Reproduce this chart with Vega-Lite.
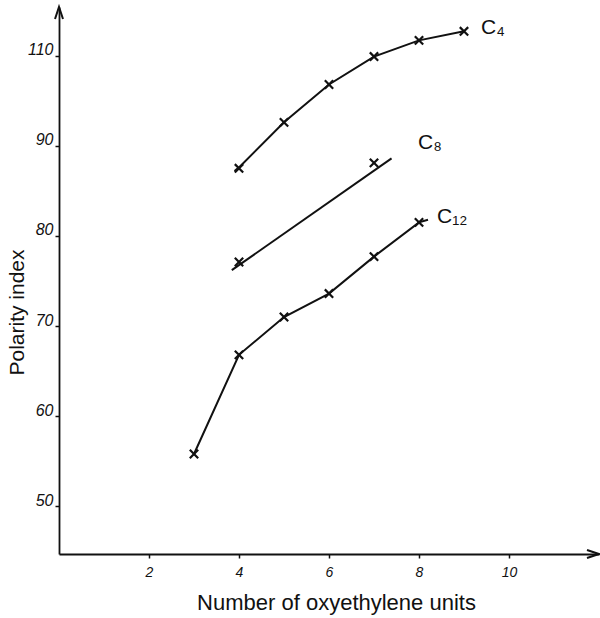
{
  "$schema": "https://vega.github.io/schema/vega-lite/v6.json",
  "width": 540,
  "height": 547,
  "autosize": {"type": "none"},
  "padding": {"left": 59, "top": 7, "right": 1, "bottom": 64},
  "background": "white",
  "config": {
    "view": {"stroke": null},
    "axis": {
      "grid": false,
      "domainColor": "#111",
      "domainWidth": 1.8,
      "tickColor": "#111",
      "tickWidth": 1.5,
      "tickSize": 4,
      "labelColor": "#111",
      "labelFont": "Liberation Sans",
      "labelFontStyle": "italic",
      "titleColor": "#111",
      "titleFont": "Liberation Sans",
      "titleFontWeight": "normal"
    }
  },
  "datasets": {
    "lines": [
      {"series": "C4", "x": 3.9, "y": 87.2},
      {"series": "C4", "x": 4, "y": 87.6},
      {"series": "C4", "x": 5, "y": 92.6},
      {"series": "C4", "x": 6, "y": 96.8},
      {"series": "C4", "x": 7, "y": 99.9},
      {"series": "C4", "x": 8, "y": 101.7},
      {"series": "C4", "x": 9, "y": 102.7},
      {"series": "C8", "x": 3.84, "y": 76.2},
      {"series": "C8", "x": 7.39, "y": 88.6},
      {"series": "C12", "x": 3, "y": 55.8},
      {"series": "C12", "x": 4, "y": 66.8},
      {"series": "C12", "x": 5, "y": 71.0},
      {"series": "C12", "x": 6, "y": 73.6},
      {"series": "C12", "x": 7, "y": 77.7},
      {"series": "C12", "x": 8, "y": 81.5},
      {"series": "C12", "x": 8.2, "y": 81.8}
    ],
    "points": [
      {"series": "C4", "x": 4, "y": 87.5},
      {"series": "C4", "x": 5, "y": 92.6},
      {"series": "C4", "x": 6, "y": 96.8},
      {"series": "C4", "x": 7, "y": 99.9},
      {"series": "C4", "x": 8, "y": 101.7},
      {"series": "C4", "x": 9, "y": 102.7},
      {"series": "C8", "x": 4, "y": 77.1},
      {"series": "C8", "x": 7, "y": 88.1},
      {"series": "C12", "x": 3, "y": 55.8},
      {"series": "C12", "x": 4, "y": 66.8},
      {"series": "C12", "x": 5, "y": 71.0},
      {"series": "C12", "x": 6, "y": 73.6},
      {"series": "C12", "x": 7, "y": 77.7},
      {"series": "C12", "x": 8, "y": 81.5}
    ],
    "labels": [
      {"label": "C₄", "x": 9.38, "y": 103.1},
      {"label": "C₈", "x": 7.98, "y": 90.3},
      {"label": "C₁₂", "x": 8.4, "y": 82.1}
    ],
    "arrows": [
      {"axis": "y", "x": 0, "y": 105.4},
      {"axis": "x", "x": 12, "y": 44.7}
    ]
  },
  "layer": [
    {
      "data": {"name": "lines"},
      "mark": {"type": "line", "color": "#111", "strokeWidth": 2},
      "encoding": {
        "x": {
          "field": "x", "type": "quantitative",
          "scale": {"domain": [0, 12], "nice": false, "zero": false},
          "axis": {
            "values": [2, 4, 6, 8, 10],
            "labelFontSize": 14,
            "labelPadding": 7,
            "title": "Number of oxyethylene units",
            "titleFontSize": 22,
            "titleX": 277,
            "titleY": 48,
            "titleBaseline": "middle"
          }
        },
        "y": {
          "field": "y", "type": "quantitative",
          "scale": {"domain": [44.7, 105.4], "nice": false, "zero": false},
          "axis": {
            "values": [50, 60, 70, 80, 90, 100],
            "labelExpr": "datum.value == 100 ? '110' : datum.label",
            "labelFontSize": 16,
            "labelPadding": 2,
            "labelOffset": -6,
            "title": "Polarity index",
            "titleFontSize": 21,
            "titleX": -42,
            "titleY": 305,
            "titleBaseline": "middle"
          }
        },
        "detail": {"field": "series", "type": "nominal"}
      }
    },
    {
      "data": {"name": "points"},
      "mark": {"type": "point", "shape": "M-1,-1L1,1M-1,1L1,-1", "filled": false, "stroke": "#111", "strokeWidth": 2.2, "size": 70, "opacity": 1},
      "encoding": {
        "x": {"field": "x", "type": "quantitative", "scale": {"domain": [0, 12], "nice": false, "zero": false}},
        "y": {"field": "y", "type": "quantitative", "scale": {"domain": [44.7, 105.4], "nice": false, "zero": false}}
      }
    },
    {
      "data": {"name": "labels"},
      "mark": {"type": "text", "align": "left", "baseline": "middle", "font": "Liberation Sans", "fontSize": 21, "color": "#111"},
      "encoding": {
        "x": {"field": "x", "type": "quantitative", "scale": {"domain": [0, 12], "nice": false, "zero": false}},
        "y": {"field": "y", "type": "quantitative", "scale": {"domain": [44.7, 105.4], "nice": false, "zero": false}},
        "text": {"field": "label", "type": "nominal"}
      }
    },
    {
      "data": {"name": "arrows"},
      "transform": [{"filter": "datum.axis == 'y'"}],
      "mark": {"type": "point", "shape": "M-1,3L0,0L1,3", "filled": false, "stroke": "#111", "strokeWidth": 2, "size": 64, "opacity": 1},
      "encoding": {
        "x": {"field": "x", "type": "quantitative", "scale": {"domain": [0, 12], "nice": false, "zero": false}},
        "y": {"field": "y", "type": "quantitative", "scale": {"domain": [44.7, 105.4], "nice": false, "zero": false}}
      }
    },
    {
      "data": {"name": "arrows"},
      "transform": [{"filter": "datum.axis == 'x'"}],
      "mark": {"type": "point", "shape": "M-3,-1L0,0L-3,1", "filled": false, "stroke": "#111", "strokeWidth": 2, "size": 64, "opacity": 1},
      "encoding": {
        "x": {"field": "x", "type": "quantitative", "scale": {"domain": [0, 12], "nice": false, "zero": false}},
        "y": {"field": "y", "type": "quantitative", "scale": {"domain": [44.7, 105.4], "nice": false, "zero": false}}
      }
    }
  ]
}
